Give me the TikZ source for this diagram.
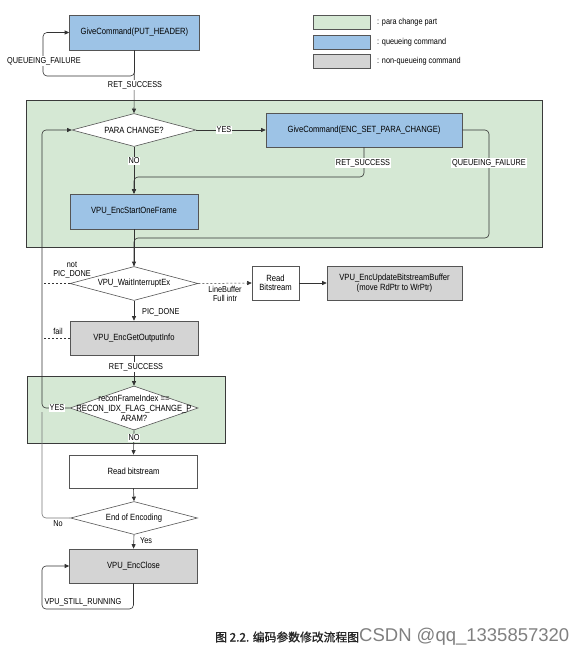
\documentclass[tikz,border=0pt]{standalone}
\usepackage{fontspec}
\setmainfont[FakeStretch=0.85]{Liberation Sans}
\newfontfamily\plainsans{Liberation Sans}
\newfontfamily\cjk[FakeBold=1.2]{Noto Sans CJK SC}
\usetikzlibrary{shapes.geometric,arrows.meta}
\definecolor{pgreen}{HTML}{D5E8D4}
\definecolor{qblue}{HTML}{9DC3E6}
\definecolor{ngray}{HTML}{D4D4D4}
\definecolor{edgec}{HTML}{333333}
\definecolor{boxedge}{HTML}{555555}
\definecolor{regedge}{HTML}{3A3A3A}
\definecolor{lightedge}{HTML}{777777}
\tikzset{
  box/.style={draw=boxedge, line width=0.6pt, minimum width=128pt, minimum height=34pt, inner sep=1pt,
    font=\fontsize{9}{9.5}\selectfont, align=center},
  qcmd/.style={box, fill=qblue},
  ncmd/.style={box, fill=ngray},
  wcmd/.style={box, fill=white},
  dia/.style={diamond, draw=boxedge, fill=white, line width=0.6pt, inner sep=0pt,
    minimum width=128pt, minimum height=34pt},
  dtext/.style={font=\fontsize{9}{10}\selectfont, align=center, inner sep=0pt},
  lbl/.style={font=\fontsize{8.6}{9}\selectfont, fill=white, inner sep=1pt, align=center},
  lblc/.style={font=\fontsize{8.6}{9}\selectfont, inner sep=1pt, align=center},
  flow/.style={draw=edgec, line width=0.6pt, rounded corners=4pt},
  arr/.style={flow, -{Triangle[length=4.5pt,width=4pt]}},
  dflow/.style={draw=edgec, line width=0.5pt, dash pattern=on 2pt off 2pt},
  region/.style={draw=regedge, fill=pgreen, line width=0.9pt},
  legbox/.style={draw=boxedge, line width=0.8pt, minimum width=57pt, minimum height=14pt, inner sep=0pt},
  legtext/.style={font=\fontsize{8.6}{9}\selectfont, anchor=west, inner sep=0pt},
}
\begin{document}
\begin{tikzpicture}[x=1pt,y=-1pt]
\useasboundingbox[fill=white] (0,0) rectangle (586,659);

% green regions
\draw[region] (26,100) rectangle (542,247);
\draw[region] (27,376) rectangle (225,443);

% legend
\node[legbox, fill=pgreen] (lg1) at (341.5,22) {};
\node[legbox, fill=qblue] (lg2) at (341.5,42) {};
\node[legbox, fill=ngray] (lg3) at (341.5,61.5) {};
\node[legtext] (lt1) at (377,22) {: para change part};
\node[legtext] (lt2) at (377,42) {: queueing command};
\node[legtext] (lt3) at (377,61.5) {: non-queueing command};

% nodes
\node[qcmd, minimum width=130pt, minimum height=35pt] (put) at (134.5,32.5) {GiveCommand(PUT\_HEADER)};
\node[dia, minimum width=124pt, minimum height=33pt] (para) at (134,130) {};
\node[dtext] (paraT) at (para) {PARA CHANGE?};
\node[qcmd, minimum width=196pt] (enc) at (364,130) {GiveCommand(ENC\_SET\_PARA\_CHANGE)};
\node[qcmd, minimum height=35pt] (start) at (134,211.5) {VPU\_EncStartOneFrame};
\node[dia] (wait) at (134,283.5) {};
\node[dtext] (waitT) at (wait) {VPU\_WaitInterruptEx};
\node[wcmd, minimum width=47pt] (rb) at (275.5,283) {Read\\Bitstream};
\node[ncmd, minimum width=135pt] (upd) at (394.5,283) {VPU\_EncUpdateBitstreamBuffer\\(move RdPtr to WrPtr)};
\node[ncmd] (goi) at (134,338) {VPU\_EncGetOutputInfo};
\node[dia, minimum height=44pt] (recon) at (134,408) {};
\node[dtext] (reconT) at (recon) {reconFrameIndex ==\\RECON\_IDX\_FLAG\_CHANGE\_P\\ARAM?};
\node[wcmd, minimum height=33pt] (rbs) at (133.5,471.5) {Read bitstream};
\node[dia, minimum width=127pt, minimum height=33pt] (eoe) at (134,518) {};
\node[dtext] (eoeT) at (eoe) {End of Encoding};
\node[ncmd] (close) at (133.5,566) {VPU\_EncClose};

\coordinate (left) at (42,130);
\coordinate (putloop) at (43,76);
\coordinate (rsjoin) at (134,177);
\coordinate (qfcorner) at (489,238);
\coordinate (nojoin) at (42,412);
\coordinate (closeloop) at (42,609);

% connectors
\draw[arr] (put.south) |- (putloop) |- (put.west);
\draw[arr] (put.south) -- (para.north);
\draw[arr] (para.east) -- (enc.west);
\draw[arr] (enc.south) |- (rsjoin) -- (start.north);
\draw[arr] (para.south) -- (start.north);
\draw[flow] (enc.east) -| (qfcorner) -| (wait.north);
\draw[arr] (start.south) -- (wait.north);
\draw[dflow] (wait.west) -- (wait.west -| left);
\draw[dflow, -{Triangle[length=4.5pt,width=4pt]}] (wait.east) -- (rb.west);
\draw[arr] (rb.east) -- (upd.west);
\draw[arr] (wait.south) -- (goi.north);
\draw[dflow] (goi.west) -- (goi.west -| left);
\draw[arr] (goi.south) -- (recon.north);
\draw[arr] (recon.west) -| (left) -- (para.west);
\draw[arr] (recon.south) -- (rbs.north);
\draw[arr] (rbs.south) -- (eoe.north);
\draw[flow, draw=lightedge] (eoe.west) -| (nojoin);
\draw[arr] (eoe.south) -- (close.north);
\draw[arr] (close.south) |- (closeloop) |- (close.west);

% labels
\node[lbl] (l1) at (44,61) {QUEUEING\_FAILURE};
\node[lbl] (l2) at (135,85) {RET\_SUCCESS};
\node[lbl] (l3) at (224,130) {YES};
\node[lbl] (l4) at (134,161) {NO};
\node[lbl] (l5) at (363,163) {RET\_SUCCESS};
\node[lbl] (l6) at (489,163) {QUEUEING\_FAILURE};
\node[lblc] (l7) at (72,270) {not\\PIC\_DONE};
\node[lblc] (l8) at (225,293.5) {LineBuffer\\Full intr};
\node[lblc, anchor=west] (l9) at (141,312) {PIC\_DONE};
\node[lblc] (l10) at (58,331) {fail};
\node[lbl] (l11) at (136,367) {RET\_SUCCESS};
\node[lbl] (l12) at (57,408) {YES};
\node[lbl] (l13) at (134,438) {NO};
\node[lblc] (l14) at (58,524) {No};
\node[lblc, anchor=west] (l15) at (139,541) {Yes};
\node[lbl, fill=none] (l16) at (83,602) {VPU\_STILL\_RUNNING};

% caption
\node[anchor=west, inner sep=0pt, text=black!85] (cap) at (215,637) {\cjk\fontsize{11.8}{13}\selectfont 图 2.2. 编码参数修改流程图};
\node[anchor=west, inner sep=0pt, text=black!50] (csdn) at (359,637) {\plainsans\fontsize{18.5}{20}\selectfont CSDN @qq\_1335857320};
\end{tikzpicture}
\end{document}
